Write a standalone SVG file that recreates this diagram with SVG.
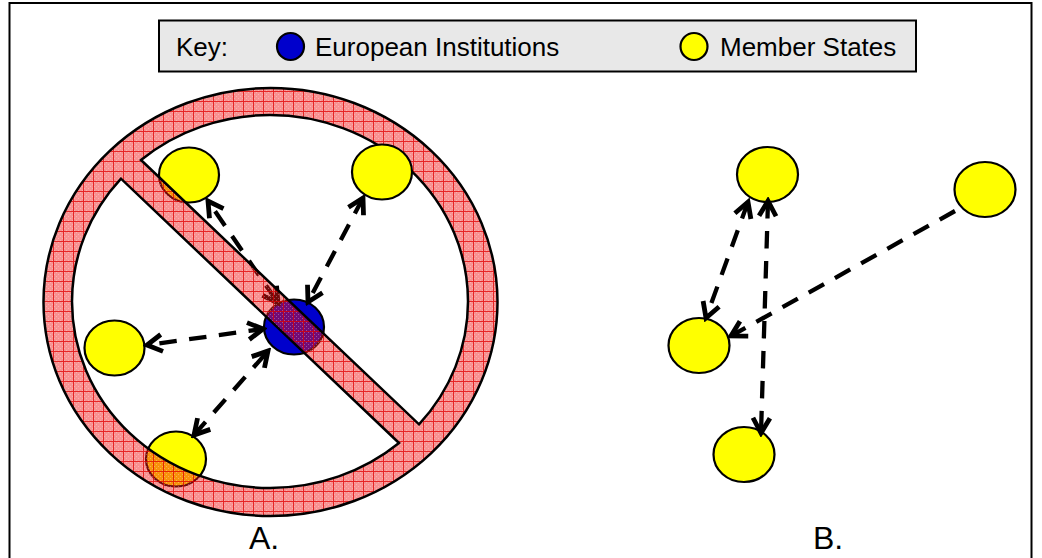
<svg xmlns="http://www.w3.org/2000/svg" width="1042" height="558" viewBox="0 0 1042 558">
<defs>
<style>
text{font-family:"Liberation Sans",Arial,sans-serif;font-size:26px;fill:#000}
.l{font-size:32px}
.n{stroke:#000;stroke-width:2.2}
.y{fill:#ff0}
.b{fill:#0000cc}
.a{fill:none;stroke:#000;stroke-width:4.300;stroke-dasharray:17.500 12.500;marker-end:url(#h)}
.d{marker-start:url(#s)}
.o{stroke-dashoffset:17.500}
</style>
<marker id="h" markerUnits="userSpaceOnUse" markerWidth="28" markerHeight="28" viewBox="-24 -14 28 28" refX="0" refY="0" orient="auto"><path d="M-15,-8.500 L0,0 L-15,8.500" fill="none" stroke="#000" stroke-width="4.800"/></marker>
<marker id="s" markerUnits="userSpaceOnUse" markerWidth="28" markerHeight="28" viewBox="-4 -14 28 28" refX="0" refY="0" orient="auto"><path d="M15,-8.500 L0,0 L15,8.500" fill="none" stroke="#000" stroke-width="4.800"/></marker>
<pattern id="t" width="4" height="4" patternUnits="userSpaceOnUse"><path d="M0 0H4V4H0Z" fill="#f01818" fill-opacity=".47" shape-rendering="crispEdges"/><path d="M0 0H1V1H0ZM2 2H3V3H2Z" fill="#fff" fill-opacity=".28" shape-rendering="crispEdges"/></pattern>
<pattern id="g" x="3" y="1" width="10" height="10" patternUnits="userSpaceOnUse"><path d="M0 0H10V1H1V10H0Z" fill="#e00000" fill-opacity=".75" shape-rendering="crispEdges"/></pattern>
<path id="ring" fill-rule="evenodd" d="M43.500 302A227 214 0 1 1 497.500 302A227 214 0 1 1 43.500 302ZM141 160L419 424.300A198 186.500 0 0 0 468 301.500A198 186.500 0 0 0 270 115A198 186.500 0 0 0 141 160ZM399 443L121 178.700A198 186.500 0 0 0 72 301.500A198 186.500 0 0 0 270 488A198 186.500 0 0 0 399 443Z"/>
</defs>
<rect width="1042" height="558" fill="#fff"/>
<rect id="frame" x="9.500" y="3" width="1022" height="575" fill="none" stroke="#000" stroke-width="2"/>
<g id="key">
<rect x="159" y="20.500" width="757" height="51" fill="#e8e8e8" stroke="#000" stroke-width="2"/>
<text x="176" y="56">Key:</text>
<ellipse class="n b" cx="290.500" cy="46.500" rx="13.500" ry="13.500"/>
<text x="315" y="56">European Institutions</text>
<ellipse class="n y" cx="694" cy="46.500" rx="13.500" ry="13.500"/>
<text x="720" y="56">Member States</text>
</g>
<g id="a-west"><ellipse class="n y" cx="114.500" cy="348" rx="30" ry="27.500"/></g>
<g id="a-nw"><ellipse class="n y" cx="189" cy="175" rx="30" ry="27.500"/></g>
<g id="a-sw"><ellipse class="n y" cx="176" cy="459" rx="30" ry="27.500"/></g>
<g id="a-center"><ellipse class="n b" cx="294" cy="327" rx="30" ry="27.500"/></g>
<g id="b-top"><ellipse class="n y" cx="767.500" cy="174.500" rx="30.500" ry="27.500"/></g>
<g id="b-right"><ellipse class="n y" cx="985" cy="189.500" rx="30.500" ry="27.500"/></g>
<g id="b-left"><ellipse class="n y" cx="699" cy="345.500" rx="30.500" ry="27.500"/></g>
<g id="b-bottom"><ellipse class="n y" cx="744" cy="454.500" rx="30.500" ry="27.500"/></g>
<g id="connectors">
<path class="a d o" d="M208 201L278 303"/>
<path class="a d" d="M363 198L308 302"/>
<path class="a d o" d="M147 345L263 329"/>
<path class="a d" d="M194 435L268 351"/>
<path class="a d" d="M748 202L706 318"/>
<path class="a d" d="M768 201L761 433"/>
<path class="a" d="M955 211L731 336"/>
</g>
<g id="prohibition">
<use href="#ring" fill="url(#t)"/>
<use href="#ring" fill="url(#g)"/>
<use href="#ring" fill="none" stroke="#000" stroke-width="2.500"/>
</g>
<g id="a-ne"><ellipse class="n y" cx="382" cy="172" rx="30" ry="27.500"/></g>
<text class="l" x="249" y="549">A.</text>
<text class="l" x="813" y="548.500">B.</text>
</svg>
